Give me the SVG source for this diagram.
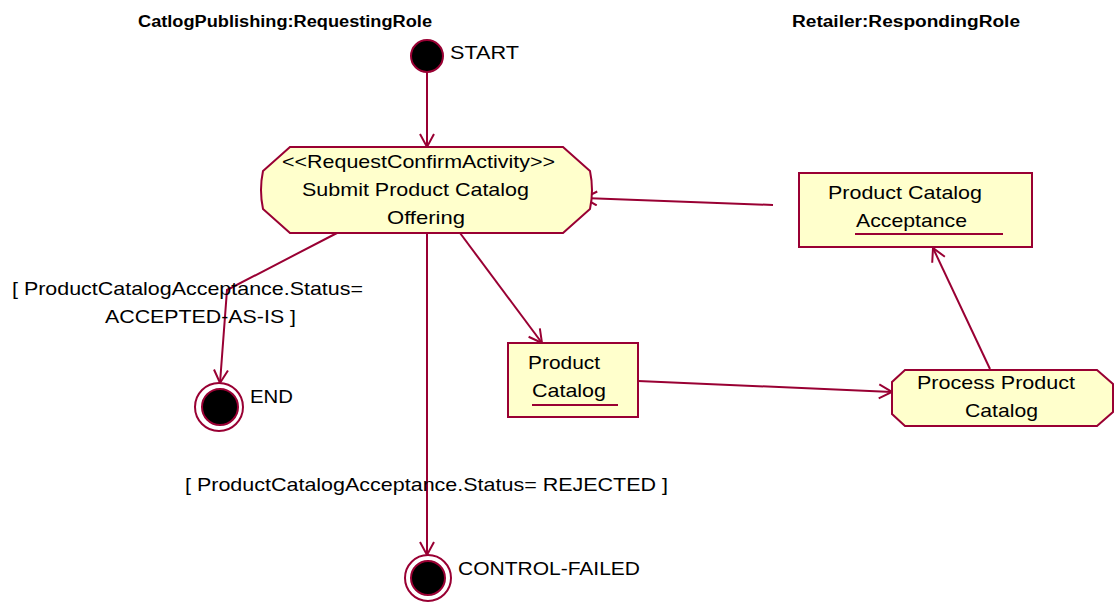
<svg xmlns="http://www.w3.org/2000/svg" width="1114" height="603" viewBox="0 0 1114 603">
<style>
.lane{font-family:"Liberation Sans",Arial,sans-serif;font-size:16px;font-weight:bold;fill:#000}
.t{font-family:"Liberation Sans",Arial,sans-serif;font-size:19px;fill:#000}
.shape{fill:#ffffcc;stroke:#990033;stroke-width:2}
.edge{fill:none;stroke:#990033;stroke-width:2}
.ul{stroke:#990033;stroke-width:2}
</style>
<defs>
<marker id="arr" markerUnits="userSpaceOnUse" markerWidth="20" markerHeight="20" refX="14" refY="8" orient="auto">
<path d="M1,1 L14,8 L1,15" fill="none" stroke="#990033" stroke-width="2"/>
</marker>
</defs>
<rect width="1114" height="603" fill="#fff"/>
<text class="lane" x="138" y="27" textLength="294" lengthAdjust="spacingAndGlyphs">CatlogPublishing:RequestingRole</text>
<text class="lane" x="792" y="27" textLength="228" lengthAdjust="spacingAndGlyphs">Retailer:RespondingRole</text>
<g id="connectors">
<path class="edge" d="M427,72 L427,147" marker-end="url(#arr)"/>
<path class="edge" d="M337,233 L227,290 L220,383" marker-end="url(#arr)"/>
<path class="edge" d="M427,233 L427,555" marker-end="url(#arr)"/>
<path class="edge" d="M460,233 L542,343" marker-end="url(#arr)"/>
<path class="edge" d="M638,381 L892,392" marker-end="url(#arr)"/>
<path class="edge" d="M990,369 L933,248" marker-end="url(#arr)"/>
<path class="edge" d="M773,205 L584,198" marker-end="url(#arr)"/>
</g>
<g id="start">
<circle cx="427" cy="56" r="16" fill="#000" stroke="#990033" stroke-width="2"/>
<text class="t" x="450" y="59" textLength="69" lengthAdjust="spacingAndGlyphs">START</text>
</g>
<g id="submit">
<path class="shape" d="M290,147 L563,147 L590,171 Q594,190 590,209 L563,233 L290,233 L263,209 Q259,190 263,171 Z"/>
<text class="t" x="282" y="168" textLength="273" lengthAdjust="spacingAndGlyphs">&lt;&lt;RequestConfirmActivity&gt;&gt;</text>
<text class="t" x="302" y="196" textLength="227" lengthAdjust="spacingAndGlyphs">Submit Product Catalog</text>
<text class="t" x="387" y="224" textLength="78" lengthAdjust="spacingAndGlyphs">Offering</text>
</g>
<g id="acceptance">
<rect class="shape" x="799" y="173" width="233" height="74"/>
<text class="t" x="828" y="199" textLength="154" lengthAdjust="spacingAndGlyphs">Product Catalog</text>
<text class="t" x="856" y="227" textLength="111" lengthAdjust="spacingAndGlyphs">Acceptance</text>
<line class="ul" x1="855" y1="234" x2="1003" y2="234"/>
</g>
<g id="productCatalog">
<rect class="shape" x="508" y="343" width="130" height="74"/>
<text class="t" x="528" y="369" textLength="72" lengthAdjust="spacingAndGlyphs">Product</text>
<text class="t" x="532" y="397" textLength="74" lengthAdjust="spacingAndGlyphs">Catalog</text>
<line class="ul" x1="532" y1="405" x2="618" y2="405"/>
</g>
<g id="process">
<path class="shape" d="M905,370 L1097,370 L1113,384 L1113,412 L1097,426 L905,426 L892,414 L892,382 Z"/>
<text class="t" x="917" y="389" textLength="158" lengthAdjust="spacingAndGlyphs">Process Product</text>
<text class="t" x="965" y="417" textLength="73" lengthAdjust="spacingAndGlyphs">Catalog</text>
</g>
<g id="end">
<circle cx="219" cy="407" r="24" fill="#fff" stroke="#990033" stroke-width="2"/>
<circle cx="220" cy="407" r="18" fill="#000" stroke="#990033" stroke-width="2"/>
<text class="t" x="250" y="403" textLength="43" lengthAdjust="spacingAndGlyphs">END</text>
</g>
<g id="controlFailed">
<circle cx="428" cy="578" r="23" fill="#fff" stroke="#990033" stroke-width="2"/>
<circle cx="428" cy="578" r="17" fill="#000" stroke="#990033" stroke-width="2"/>
<text class="t" x="458" y="575" textLength="182" lengthAdjust="spacingAndGlyphs">CONTROL-FAILED</text>
</g>
<g id="guards">
<text class="t" x="12" y="295" textLength="351" lengthAdjust="spacingAndGlyphs">[ ProductCatalogAcceptance.Status=</text>
<text class="t" x="105" y="323" textLength="191" lengthAdjust="spacingAndGlyphs">ACCEPTED-AS-IS ]</text>
<text class="t" x="185" y="491" textLength="483" lengthAdjust="spacingAndGlyphs">[ ProductCatalogAcceptance.Status= REJECTED ]</text>
</g>
</svg>
